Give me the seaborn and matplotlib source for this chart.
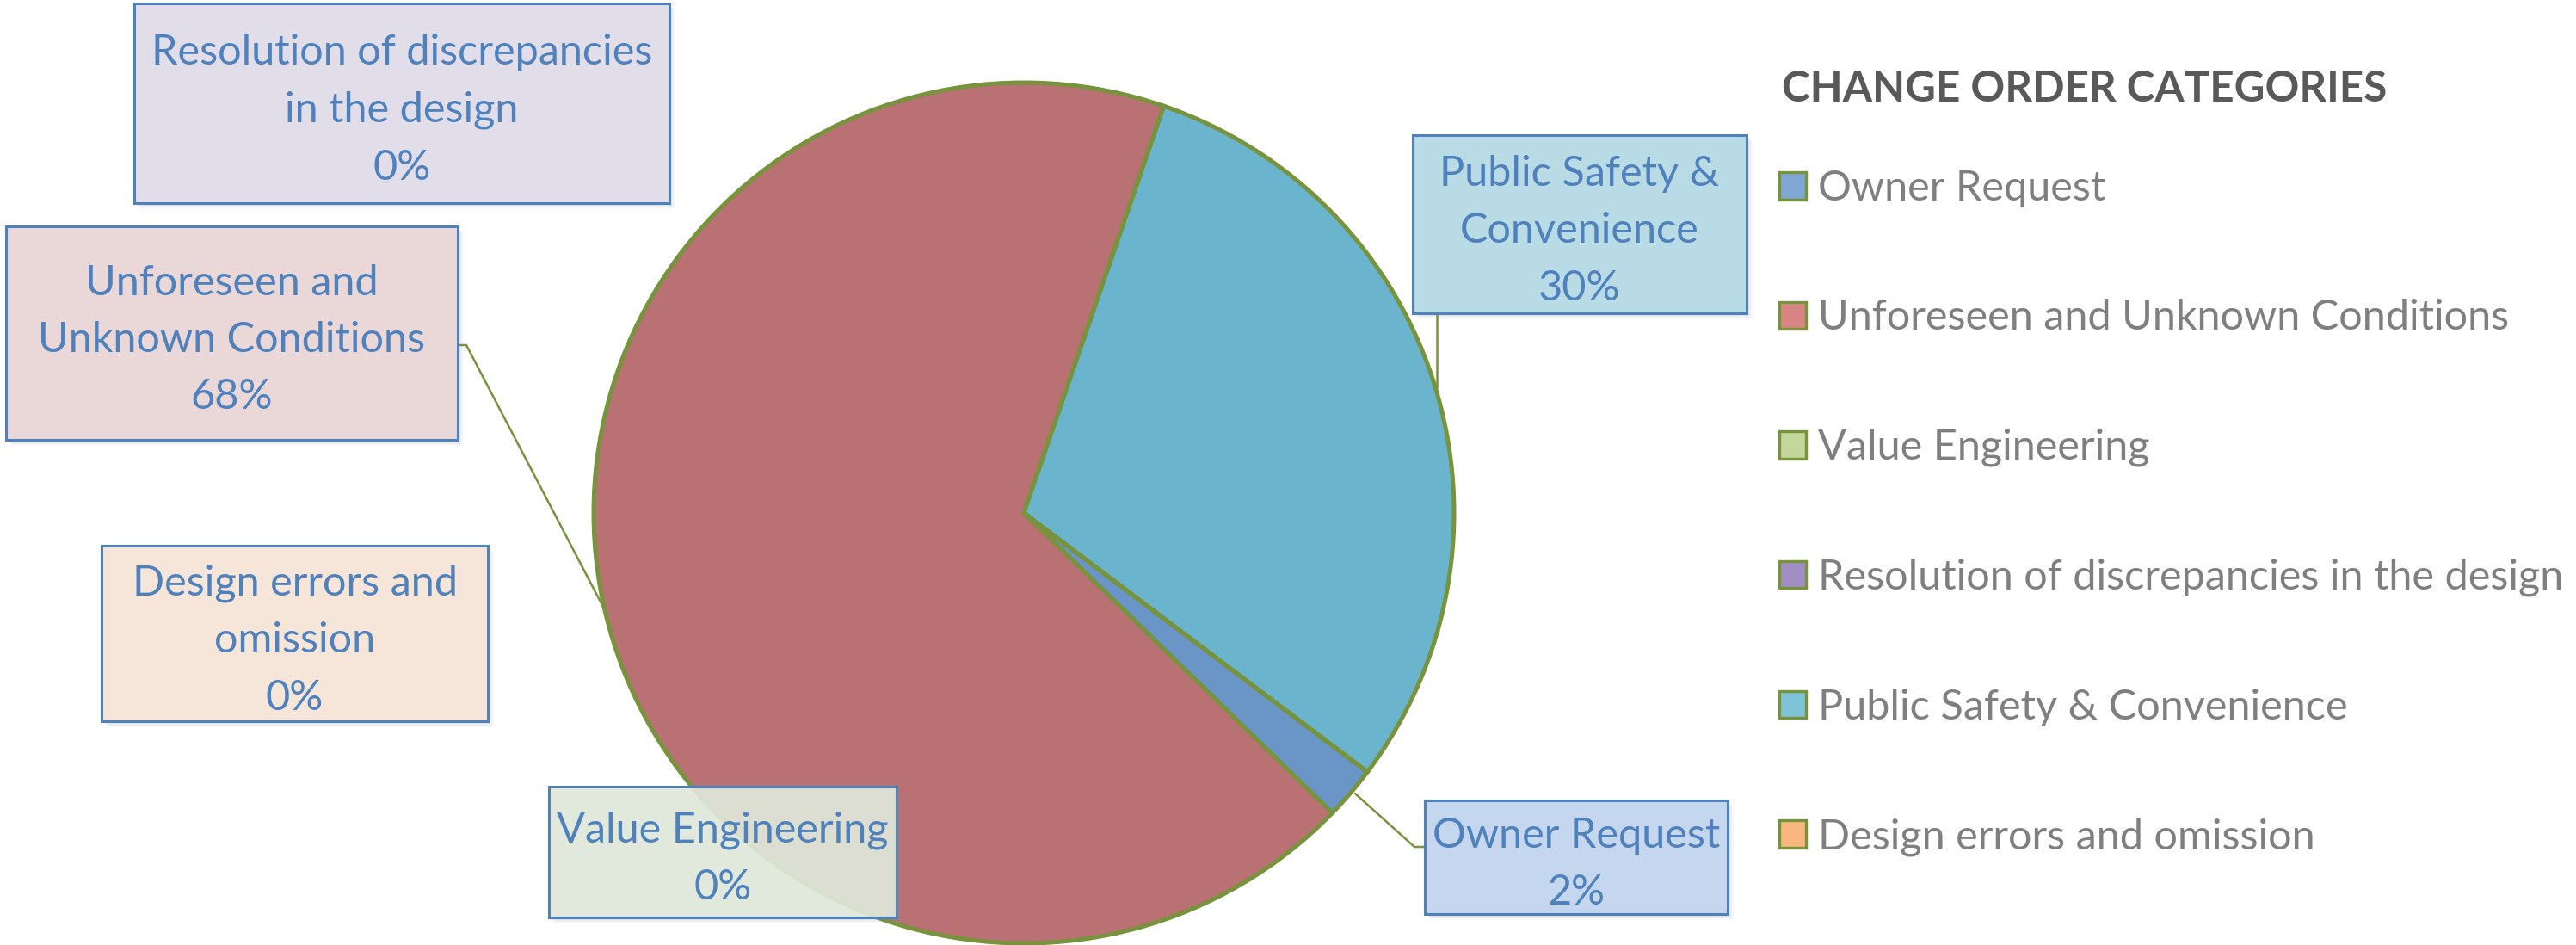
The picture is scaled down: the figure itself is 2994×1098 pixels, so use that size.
import matplotlib
matplotlib.use("Agg")
import matplotlib.pyplot as plt
from matplotlib.patches import Rectangle, Patch
import seaborn as sns

# Data
categories = ["Owner Request",
              "Unforeseen and Unknown Conditions",
              "Value Engineering",
              "Resolution of discrepancies in the design",
              "Public Safety & Convenience",
              "Design errors and omission"]
shares = [2, 68, 0, 0, 30, 0]

# wrapped names for the data label boxes
label_lines = {
    "Owner Request": "Owner Request",
    "Unforeseen and Unknown Conditions": "Unforeseen and\nUnknown Conditions",
    "Value Engineering": "Value Engineering",
    "Resolution of discrepancies in the design": "Resolution of discrepancies\nin the design",
    "Public Safety & Convenience": "Public Safety &\nConvenience",
    "Design errors and omission": "Design errors and\nomission",
}

W, H = 2994, 1098
DPI = 200

sns.set_theme(style="white")
plt.rcParams['font.family'] = ['Lato', 'DejaVu Sans']

wedge_colors = ["#6A96C7", "#B97174", "#9BBB59", "#8064A2", "#6BB4CE", "#F79646"]
legend_colors = ["#80A6D4", "#D98585", "#C3D69B", "#A08EC4", "#7FC3D8", "#F9B67F"]
box_fills = ["#C5D7EE", "#EAD8D9", "#E2EADB", "#E1DEEA", "#B8DBE6", "#F6E6DA"]
edge_green = "#77933C"
label_blue = "#4F81BD"

# label box extents in pixels (x0, y0, x1, y1), y measured from the top
boxes = {
    "Owner Request": (1656, 930, 2008, 1062),
    "Unforeseen and Unknown Conditions": (7, 263, 532, 511),
    "Value Engineering": (638, 914, 1042, 1066),
    "Resolution of discrepancies in the design": (156, 4, 778, 236),
    "Public Safety & Convenience": (1642, 157, 2030, 364),
    "Design errors and omission": (118, 634, 567, 838),
}
leaders = {
    "Owner Request": [(1656, 984), (1644, 984), (1575, 922)],
    "Unforeseen and Unknown Conditions": [(532, 401), (542, 401), (702, 707)],
    "Public Safety & Convenience": [(1670, 364), (1670, 450)],
}

fig = plt.figure(figsize=(W / DPI, H / DPI), dpi=DPI)
ax = fig.add_axes([0, 0, 1, 1])

ax.pie(shares, colors=wedge_colors, startangle=-37, counterclock=False,
       center=(1190, H - 596), radius=500,
       wedgeprops=dict(edgecolor=edge_green, linewidth=1.8))
ax.set_xlim(0, W)
ax.set_ylim(0, H)
ax.set_aspect('equal')
ax.axis('off')

fs = 17.5
total = sum(shares)
for i, cat in enumerate(categories):
    x0, y0, x1, y1 = boxes[cat]
    # soft shadow
    for k, a in enumerate([0.10, 0.08, 0.06]):
        off = 3 + 2 * k
        ax.add_patch(Rectangle((x0 + off, H - y1 - off), x1 - x0, y1 - y0,
                               facecolor="#7F8FA6", edgecolor="none",
                               alpha=a, zorder=3))
    alpha = 0.9 if cat == "Value Engineering" else 1.0
    ax.add_patch(Rectangle((x0, H - y1), x1 - x0, y1 - y0,
                           facecolor=box_fills[i], edgecolor="none",
                           alpha=alpha, zorder=4))
    ax.add_patch(Rectangle((x0, H - y1), x1 - x0, y1 - y0,
                           facecolor="none", edgecolor=label_blue,
                           linewidth=1.1, zorder=4))
    txt = "%s\n%d%%" % (label_lines[cat], round(100 * shares[i] / total))
    ax.text((x0 + x1) / 2, H - (y0 + y1) / 2 - 8, txt, ha='center', va='center',
            fontsize=fs, color=label_blue, linespacing=1.62, zorder=5)

for cat, pts in leaders.items():
    ax.plot([p[0] for p in pts], [H - p[1] for p in pts],
            color=edge_green, lw=0.9, zorder=2)

# legend
ax.text(2071, H - 104, "CHANGE ORDER CATEGORIES", ha='left', va='center',
        fontsize=17.8, fontweight='bold', color="#595959")
handles = [Patch(facecolor=c, edgecolor=edge_green, linewidth=1.2)
           for c in legend_colors]
fs_px = fs * DPI / 72
ax.legend(handles, categories, loc='upper left',
          bbox_to_anchor=(2068, H - 197), bbox_transform=ax.transData,
          frameon=False, fontsize=fs, labelcolor="#7F7F7F",
          handlelength=31 / fs_px, handleheight=30 / fs_px,
          handletextpad=14 / fs_px, labelspacing=2.19,
          borderpad=0, borderaxespad=0)

fig.savefig("out.png", dpi=DPI)
